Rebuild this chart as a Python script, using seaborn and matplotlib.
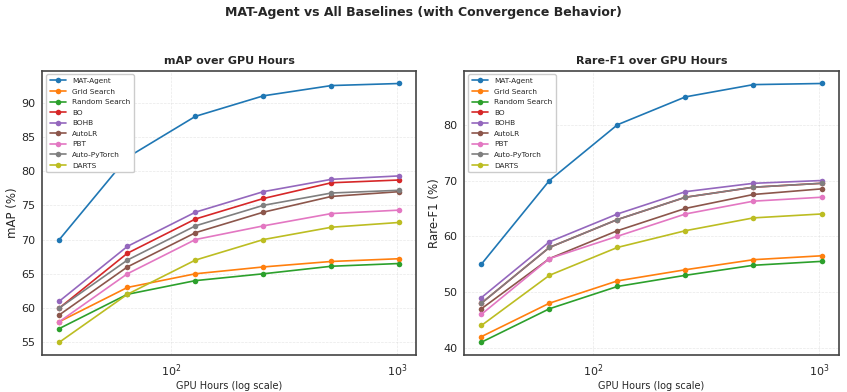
import pandas as pd
import matplotlib
matplotlib.use("Agg")
import matplotlib.pyplot as plt
import seaborn as sns

gpu_hours = [32, 64, 128, 256, 512, 1024]
methods = ['MAT-Agent', 'Grid Search', 'Random Search', 'BO', 'BOHB',
           'AutoLR', 'PBT', 'Auto-PyTorch', 'DARTS']

map_mat = [70, 82, 88, 91, 92.5, 92.8]
map_grid = [58, 63, 65, 66, 66.8, 67.2]
map_random = [57, 62, 64, 65, 66.1, 66.5]
map_bo = [60, 68, 73, 76, 78.3, 78.7]
map_bohb = [61, 69, 74, 77, 78.8, 79.3]
map_autolr = [59, 66, 71, 74, 76.3, 77.0]
map_pbt = [58, 65, 70, 72, 73.8, 74.3]
map_autopt = [60, 67, 72, 75, 76.8, 77.2]
map_darts = [55, 62, 67, 70, 71.8, 72.5]

f1_mat = [55, 70, 80, 85, 87.2, 87.4]
f1_grid = [42, 48, 52, 54, 55.8, 56.5]
f1_random = [41, 47, 51, 53, 54.8, 55.5]
f1_bo = [48, 58, 63, 67, 68.8, 69.5]
f1_bohb = [49, 59, 64, 68, 69.5, 70]
f1_autolr = [47, 56, 61, 65, 67.5, 68.5]
f1_pbt = [46, 56, 60, 64, 66.3, 67]
f1_autopt = [48, 58, 63, 67, 68.8, 69.5]
f1_darts = [44, 53, 58, 61, 63.3, 64]

map_series = [map_mat, map_grid, map_random, map_bo, map_bohb,
              map_autolr, map_pbt, map_autopt, map_darts]
f1_series = [f1_mat, f1_grid, f1_random, f1_bo, f1_bohb,
             f1_autolr, f1_pbt, f1_autopt, f1_darts]


def long_df(series, key):
    rows = []
    for m, vals in zip(methods, series):
        for x, v in zip(gpu_hours, vals):
            rows.append({'GPU Hours': x, 'Method': m, key: v})
    return pd.DataFrame(rows)


sns.set_style("whitegrid")
plt.rcParams['font.family'] = ['DejaVu Sans']

fig, axes = plt.subplots(1, 2, figsize=(8.47, 3.92), dpi=100)
fig.subplots_adjust(left=0.05, right=0.99, top=0.82, bottom=0.094, wspace=0.128)

panels = [(map_series, 'mAP', 'mAP (%)', 'mAP over GPU Hours', [55, 60, 65, 70, 75, 80, 85, 90]),
          (f1_series, 'Rare-F1', 'Rare-F1 (%)', 'Rare-F1 over GPU Hours', [40, 50, 60, 70, 80])]

for ax, (series, key, ylabel, title, yticks) in zip(axes, panels):
    df = long_df(series, key)
    sns.lineplot(data=df, x='GPU Hours', y=key, hue='Method', hue_order=methods,
                 palette='tab10', marker='o', markersize=4, markeredgewidth=0,
                 linewidth=1.2, ax=ax)
    ax.set_xscale('log')
    ax.set_yticks(yticks)
    ax.set_title(title, fontsize=8, fontweight='bold', pad=5)
    ax.set_xlabel('GPU Hours (log scale)', fontsize=7, labelpad=2)
    ax.set_ylabel(ylabel, fontsize=8.5, labelpad=2)
    ax.tick_params(axis='both', labelsize=8, pad=1.5)
    ax.grid(True, which='major', linestyle='--', linewidth=0.5, alpha=0.45)
    ax.grid(False, which='minor')
    for s in ax.spines.values():
        s.set_color('#444444')
        s.set_linewidth(1.2)
    ax.legend(loc='upper left', fontsize=5.3, frameon=True, edgecolor='#cccccc',
              framealpha=1, handlelength=2.2, labelspacing=0.6, borderpad=0.5)

fig.suptitle('MAT-Agent vs All Baselines (with Convergence Behavior)',
             fontsize=9, fontweight='bold', y=0.985)

fig.savefig('out.png', dpi=100)
